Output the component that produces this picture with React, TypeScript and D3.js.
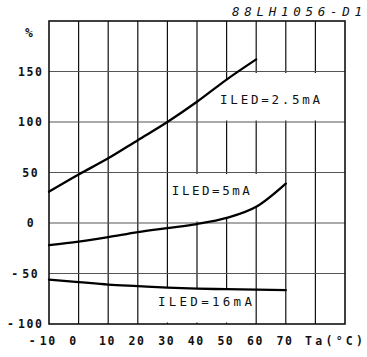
import * as React from 'react';
import * as d3 from 'd3';

// chart data
const temps = [-10, 0, 10, 20, 30, 40, 50, 60, 70];
const iled25 = [31, 48, 64, 82, 100, 120, 142, 162];
const iled5 = [-22, -18.5, -14, -9, -5, -1, 5, 16, 39];
const iled16 = [-56, -58.5, -61, -62.5, -64, -65, -65.5, -66, -66.5];
const xTicks = [-10, 0, 10, 20, 30, 40, 50, 60, 70];
const yTicks = [-100, -50, 0, 50, 100, 150];
const labels = ['ILED=2.5mA', 'ILED=5mA', 'ILED=16mA'];
const title = '88LH1056-D1';

type Pt = { t: number, v: number };
const toPts = (vals: number[]): Pt[] => vals.map((v, i) => ({ t: temps[i], v }));

const W = 367, H = 357;
const x = d3.scaleLinear().domain([-10, 90]).range([49, 345]);
const y = d3.scaleLinear().domain([-100, 200]).range([324, 21]);

const line = d3.line<Pt>().x(d => x(d.t)).y(d => y(d.v)).curve(d3.curveMonotoneX);

const mono = '"DejaVu Sans Mono", monospace';
const CH = 8.7; // advance of one tick glyph

// white patch behind a curve label, limited to one side of the curve
const LabelBox = (props: { id: string, pts: Pt[], side: 'above' | 'below', t0: number, t1: number, v0: number, v1: number }) => {
    const { id, pts, side, t0, t1, v0, v1 } = props;
    const ext = [{ t: -10, v: pts[0].v }, ...pts, { t: 90, v: pts[pts.length - 1].v }];
    const area = d3.area<Pt>().x(d => x(d.t)).y1(d => y(d.v))
        .y0(side === 'above' ? y(200) : y(-100)).curve(d3.curveMonotoneX);
    return <g>
        <clipPath id={id}><path d={area(ext) || ''} /></clipPath>
        <rect x={x(t0) + 1.5} y={y(v1) + 1.5} width={x(t1) - x(t0) - 3} height={y(v0) - y(v1) - 3}
            fill="#fff" clipPath={`url(#${id})`} />
    </g>;
};

const TickNum = (props: { v: number, cx: number, by: number }) => {
    const { v, cx, by } = props;
    const s = String(Math.abs(v));
    const w = s.length * CH - 2;
    return <g>
        <text x={cx - w / 2} y={by} textLength={w} lengthAdjust="spacing">{s}</text>
        {v < 0 && <text x={cx - w / 2 - 4} y={by} textAnchor="end">-</text>}
    </g>;
};

export default function App() {
    const p25 = toPts(iled25), p5 = toPts(iled5), p16 = toPts(iled16);
    const gridX = d3.range(0, 90, 10);
    const gridY = yTicks.filter(v => v > -100);
    return (
        <svg width={W} height={H} style={{ position: 'absolute', left: 0, top: 0, background: '#fff' }}>
            <rect width={W} height={H} fill="#fff" />
            {/* grid */}
            {gridX.map(t => <line key={'gx' + t} x1={x(t)} x2={x(t)} y1={y(200)} y2={y(-100)} stroke="#111" strokeWidth={1.2} />)}
            {gridY.map(v => <line key={'gy' + v} x1={x(-10)} x2={x(90)} y1={y(v)} y2={y(v)} stroke="#555" strokeWidth={1} />)}
            <rect x={x(-10)} y={y(200)} width={x(90) - x(-10)} height={y(-100) - y(200)} fill="none" stroke="#111" strokeWidth={1.6} />

            {/* label patches */}
            <LabelBox id="b25" pts={p25} side="below" t0={40} t1={90} v0={100} v1={150} />
            <LabelBox id="b5" pts={p5} side="above" t0={30} t1={70} v0={0} v1={50} />
            <LabelBox id="b16" pts={p16} side="below" t0={20} t1={60} v0={-100} v1={-50} />

            {/* curves */}
            {[p25, p5, p16].map((p, i) => <path key={i} d={line(p) || ''} fill="none" stroke="#000" strokeWidth={2.3} strokeLinecap="round" />)}

            {/* curve labels */}
            <g fontFamily={mono} fontSize={12.5} fill="#111">
                <text x={x(47.8)} y={y(118)} textLength={100} lengthAdjust="spacing">{labels[0]}</text>
                <text x={x(31.5)} y={y(27.5)} textLength={78} lengthAdjust="spacing">{labels[1]}</text>
                <text x={x(26.8)} y={y(-82)} textLength={94} lengthAdjust="spacing">{labels[2]}</text>
            </g>

            {/* axes text */}
            <g fontFamily={mono} fontSize={11.5} fontWeight="bold" fill="#111">
                {yTicks.map(v => <TickNum key={'yt' + v} v={v} cx={30} by={y(v) + 4} />)}
                {xTicks.map(t => <TickNum key={'xt' + t} v={t} cx={x(t) - (t === 0 ? 6 : 1.5)} by={345} />)}
                <text x={305} y={345} textLength={58} lengthAdjust="spacing">Ta(°C)</text>
                <text x={29} y={37} textAnchor="middle" fontSize={13}>%</text>
            </g>
            <text x={232} y={16} textLength={130} lengthAdjust="spacing" fontFamily={mono} fontSize={12.5}
                fontStyle="italic" fill="#111">{title}</text>
        </svg>
    );
}
